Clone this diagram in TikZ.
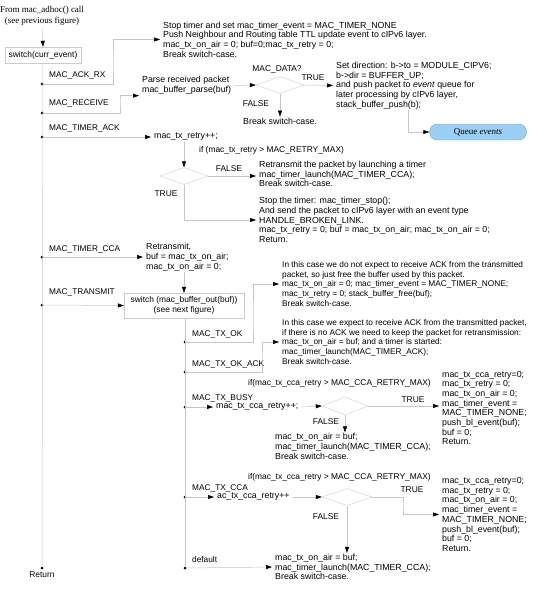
\documentclass[tikz,border=0pt]{standalone}
\usepackage{fontspec}
\setmainfont{Liberation Sans}
\newfontfamily\timesfont{Liberation Serif}
\usetikzlibrary{shapes.geometric,shapes.misc,arrows.meta}
\definecolor{queueblue}{HTML}{9CCFF4}
\definecolor{queueline}{HTML}{6FA6D6}

\begin{document}
\begin{tikzpicture}[x=1pt, y=-1pt,
    txt/.style={anchor=west, align=left, inner xsep=3pt, inner ysep=1pt, font=\fontsize{8.8}{9.7}\selectfont},
    case/.style={anchor=base west, inner sep=0pt, font=\fontsize{8.3}{9.7}\selectfont},
    tag/.style={inner sep=0pt, font=\fontsize{8.4}{9.7}\selectfont},
    dot/.style={circle, fill=black, inner sep=0pt, minimum size=3pt},
    switchbox/.style={draw=gray!40, align=center, inner sep=0pt, font=\fontsize{8.4}{9.7}\selectfont},
    test/.style={diamond, draw=gray!40, inner sep=0pt, minimum width=48pt, minimum height=17pt},
    wire/.style={draw=gray!45, line width=0.5pt},
    arr/.style={wire, -{Triangle[length=6pt, width=4pt, color=black]}}]
\useasboundingbox (0,0) rectangle (537,591);

% FIRST SWITCH
\node[align=center, inner sep=1pt, font=\timesfont\fontsize{9}{11.5}\selectfont] (from) at (42,16) {From mac\_adhoc() call\\(see previous figure)};
\node[switchbox, minimum width=76pt, minimum height=16pt] (sw1) at (43,55) {switch(curr\_event)};
\draw[arr] (from.south) -- (sw1.north);

\node[dot] (ackrx) at (42,84) {};
\node[dot] (recv) at (42,113) {};
\node[dot] (tack) at (42,137) {};
\node[dot] (tcca) at (42,257) {};
\node[dot] (tx) at (42,305) {};
\node[dot] (ret) at (42,568) {};
\draw[wire] (sw1.south) -- (ret);
\node[tag, anchor=north] (retlbl) at (42,572) {Return};

\node[case] (ackrxlbl) at (49,78) {MAC\_ACK\_RX};
\node[case] (recvlbl) at (49,106) {MAC\_RECEIVE};
\node[case] (tacklbl) at (49,131) {MAC\_TIMER\_ACK};
\node[case] (tccalbl) at (49,251) {MAC\_TIMER\_CCA};
\node[case] (txlbl) at (49,294) {MAC\_TRANSMIT};

% MAC_ACK_RX
\node[txt] (stop) at (160,39.5) {Stop timer and set mac\_timer\_event = MAC\_TIMER\_NONE\\Push Neighbour and Routing table TTL update event to cIPv6 layer.\\mac\_tx\_on\_air = 0; buf=0;mac\_tx\_retry = 0;\\Break switch-case.};
\coordinate (k1) at (113,60);
\draw[arr] (ackrx) -| (k1) |- (stop.west);

% MAC_RECEIVE
\node[txt] (parse) at (139,85.5) {Parse received packet\\mac\_buffer\_parse(buf)};
\coordinate (k2) at (120,100);
\draw[arr] (recv) -| (k2) |- (parse.south west);
\node[test] (dia1) at (280,85) {};
\node[tag] (datalbl) at (277,69) {MAC\_DATA?};
\node[tag] (true1) at (313,78) {TRUE};
\node[tag] (false1) at (256,104) {FALSE};
\draw[arr] (parse.east) -- (dia1.west);
\node[txt] (setdir) at (333,85.5) {Set direction: b->to = MODULE\_CIPV6;\\b->dir = BUFFER\_UP;\\and push packet to \emph{event} queue for\\later processing by cIPv6 layer,\\stack\_buffer\_push(b);};
\draw[arr] (dia1.east) -- (setdir.west);
\node[txt] (brk1) at (240,121) {Break switch-case.};
\draw[arr] (dia1.south) -- (dia1.south |- brk1.north);
\node[rounded rectangle, draw=queueline, fill=queueblue, minimum width=97pt, minimum height=16pt, inner sep=0pt, font=\timesfont\fontsize{9}{10}\selectfont] (queue) at (478,132) {Queue \emph{events}};
\coordinate (k3) at (408,0);
\draw[arr] (setdir.south -| k3) |- (queue.west);

% MAC_TIMER_ACK
\node[txt] (retry) at (151,137) {mac\_tx\_retry++;};
\draw[arr] (tack) -- (retry.west);
\node[tag, anchor=west] (cond1) at (199,150) {if (mac\_tx\_retry > MAC\_RETRY\_MAX)};
\node[test] (dia2) at (184,176) {};
\node[tag] (false2) at (229,169) {FALSE};
\node[tag] (true2) at (166,194) {TRUE};
\draw[arr] (retry.south -| dia2) -- (dia2.north);
\node[txt] (retx) at (256,174) {Retransmit the packet by launching a timer\\mac\_timer\_launch(MAC\_TIMER\_CCA);\\Break switch-case.};
\draw[arr] (dia2.east) -- (dia2.east -| retx.west);
\node[txt] (stopt) at (256,220) {Stop the timer: mac\_timer\_stop();\\And send the packet to cIPv6 layer with an event type\\HANDLE\_BROKEN\_LINK.\\mac\_tx\_retry = 0; buf = mac\_tx\_on\_air; mac\_tx\_on\_air = 0;\\Return.};
\draw[arr] (dia2.south) |- (stopt.west);

% MAC_TIMER_CCA
\node[txt] (rtx) at (143,257) {Retransmit,\\buf = mac\_tx\_on\_air;\\mac\_tx\_on\_air = 0;};
\draw[arr] (tcca) -- (rtx.west);

% MAC_TRANSMIT
\node[switchbox, minimum width=120pt, minimum height=25pt] (sw2) at (184,305.5) {switch (mac\_buffer\_out(buf))\\(see next figure)};
\draw[arr] (rtx.south -| sw2) -- (sw2.north);
\draw[arr] (tx) -- (sw2.west);

% SECOND SWITCH
\node[dot] (txok) at (185,342) {};
\node[dot] (txack) at (185,372) {};
\node[dot] (busy) at (185,407) {};
\node[dot] (cca) at (185,497) {};
\node[dot] (dflt) at (185,568) {};
\draw[wire] (sw2.south -| dflt) -- (dflt);

\node[case] (txoklbl) at (192,336) {MAC\_TX\_OK};
\node[case] (txacklbl) at (192,366) {MAC\_TX\_OK\_ACK};
\node[case] (busylbl) at (192,400) {MAC\_TX\_BUSY};
\node[case] (ccalbl) at (192,490) {MAC\_TX\_CCA};
\node[case] (dfltlbl) at (192,562) {default};

% MAC_TX_OK
\node[txt, font=\fontsize{8.3}{9.7}\selectfont] (nofree) at (279,284) {In this case we do not expect to receive ACK from the transmitted\\packet, so just free the buffer used by this packet.\\mac\_tx\_on\_air = 0; mac\_timer\_event = MAC\_TIMER\_NONE;\\mac\_tx\_retry = 0; stack\_buffer\_free(buf);\\Break switch-case.};
\coordinate (k4) at (253,320);
\draw[arr] (txok) -| (k4) |- (nofree.west);

% MAC_TX_OK_ACK
\node[txt, font=\fontsize{8.3}{9.7}\selectfont] (keep) at (279,342) {In this case we expect to receive ACK from the transmitted packet,\\if there is no ACK we need to keep the packet for retransmission:\\mac\_tx\_on\_air = buf; and a timer is started:\\mac\_timer\_launch(MAC\_TIMER\_ACK);\\Break switch-case.};
\coordinate (k5) at (262,360);
\draw[arr] (txack) -| (k5) |- (keep.west);

% MAC_TX_BUSY
\node[txt] (inc1) at (213,407) {mac\_tx\_cca\_retry++;};
\draw[arr] (busy) -- (inc1.west);
\node[tag, anchor=west] (cond2) at (248,383) {if(mac\_tx\_cca\_retry > MAC\_CCA\_RETRY\_MAX)};
\node[test, minimum width=46pt, minimum height=18pt] (dia3) at (345,406) {};
\node[tag] (true3) at (413,400) {TRUE};
\node[tag] (false3) at (326,422) {FALSE};
\draw[arr] (inc1.east) -- (dia3.west);
\node[txt] (abort1) at (439,408) {mac\_tx\_cca\_retry=0;\\mac\_tx\_retry = 0;\\mac\_tx\_on\_air = 0;\\mac\_timer\_event =\\MAC\_TIMER\_NONE;\\push\_bl\_event(buf);\\buf = 0;\\Return.};
\draw[arr] (dia3.east) -- (dia3.east -| abort1.west);
\node[txt] (again1) at (272,446.5) {mac\_tx\_on\_air = buf;\\mac\_timer\_launch(MAC\_TIMER\_CCA);\\Break switch-case.};
\draw[arr] (dia3.south) -- (dia3.south |- again1.north);

% MAC_TX_CCA
\node[txt] (inc2) at (214,497) {ac\_tx\_cca\_retry++};
\draw[arr] (cca) -- (inc2.west);
\node[tag, anchor=west] (cond3) at (248,477) {if(mac\_tx\_cca\_retry > MAC\_CCA\_RETRY\_MAX)};
\node[test, minimum width=50pt] (dia4) at (347,497) {};
\node[tag] (true4) at (412,490) {TRUE};
\node[tag] (false4) at (326,517) {FALSE};
\draw[arr] (inc2.east) -- (dia4.west);
\node[txt] (abort2) at (439,514.5) {mac\_tx\_cca\_retry=0;\\mac\_tx\_retry = 0;\\mac\_tx\_on\_air = 0;\\mac\_timer\_event =\\MAC\_TIMER\_NONE;\\push\_bl\_event(buf);\\buf = 0;\\Return.};
\coordinate (k6) at (403,505);
\draw[arr] (dia4.east) -| (k6) |- (abort2.west);

% DEFAULT
\node[txt] (again2) at (272,567) {mac\_tx\_on\_air = buf;\\mac\_timer\_launch(MAC\_TIMER\_CCA);\\Break switch-case.};
\draw[arr] (dia4.south) -- (dia4.south |- again2.north);
\draw[arr] (dflt) -- (again2.west);
\end{tikzpicture}
\end{document}
